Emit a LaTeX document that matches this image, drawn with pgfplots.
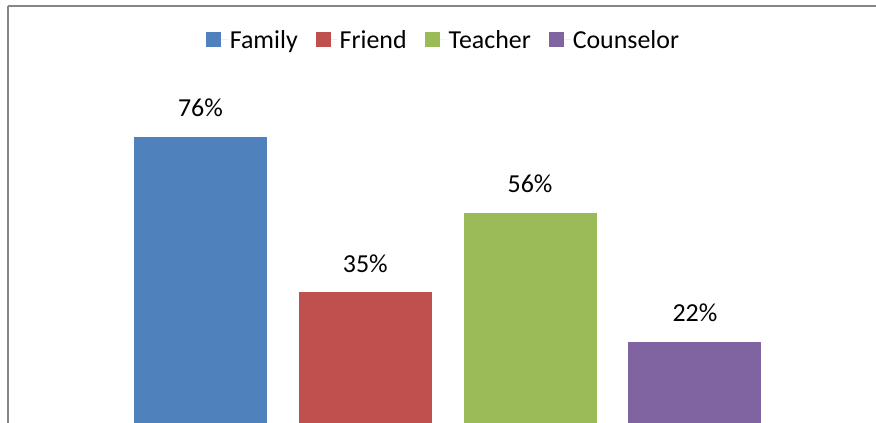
\documentclass[border=0pt]{standalone}
\usepackage{fontspec}
\setmainfont{Carlito}
\usepackage{pgfplots}
\pgfplotsset{compat=1.18}
\definecolor{cFamily}{HTML}{4F81BD}
\definecolor{cFriend}{HTML}{C0504D}
\definecolor{cTeacher}{HTML}{9BBB59}
\definecolor{cCounselor}{HTML}{8064A2}
\definecolor{cBorder}{HTML}{868686}
\begin{document}
\begin{tikzpicture}
\useasboundingbox (0,0) rectangle (876bp,423bp);
\begin{axis}[
  at={(8bp,0bp)}, anchor=south west,
  scale only axis, width=868bp, height=417.3bp,
  axis x line*=top, axis y line*=left,
  axis line style={cBorder, line width=2bp, -},
  xtick=\empty, ytick=\empty,
  xmin=-1.16800, xmax=4.0989,
  ymin=0.6, ymax=110.43,
  ybar, bar shift=0pt, bar width=133bp,
  /pgf/number format/assume math mode=true,
  nodes near coords={\pgfmathprintnumber{\pgfplotspointmeta}\%},
  every node near coord/.append style={font=\fontsize{26}{30}\selectfont, anchor=base, inner sep=0pt, yshift=20bp, black},
  legend columns=4,
  legend style={draw=none, fill=none, at={(rel axis cs:0.5017,0.918)}, anchor=center,
    font=\fontsize{26}{30}\selectfont,
    /tikz/every even column/.append style={column sep=16bp}},
  legend image code/.code={\fill[#1] (0bp,-7.5bp) rectangle (15bp,7.5bp); \path (0bp,0bp) -- (22bp,0bp);},
]
\addplot[fill=cFamily, draw=none] coordinates {(0,76)};
\addlegendentry{Family}
\addplot[fill=cFriend, draw=none] coordinates {(1,35)};
\addlegendentry{Friend}
\addplot[fill=cTeacher, draw=none] coordinates {(2,56)};
\addlegendentry{Teacher}
\addplot[fill=cCounselor, draw=none] coordinates {(3,22)};
\addlegendentry{Counselor}
\end{axis}
\end{tikzpicture}
\end{document}
